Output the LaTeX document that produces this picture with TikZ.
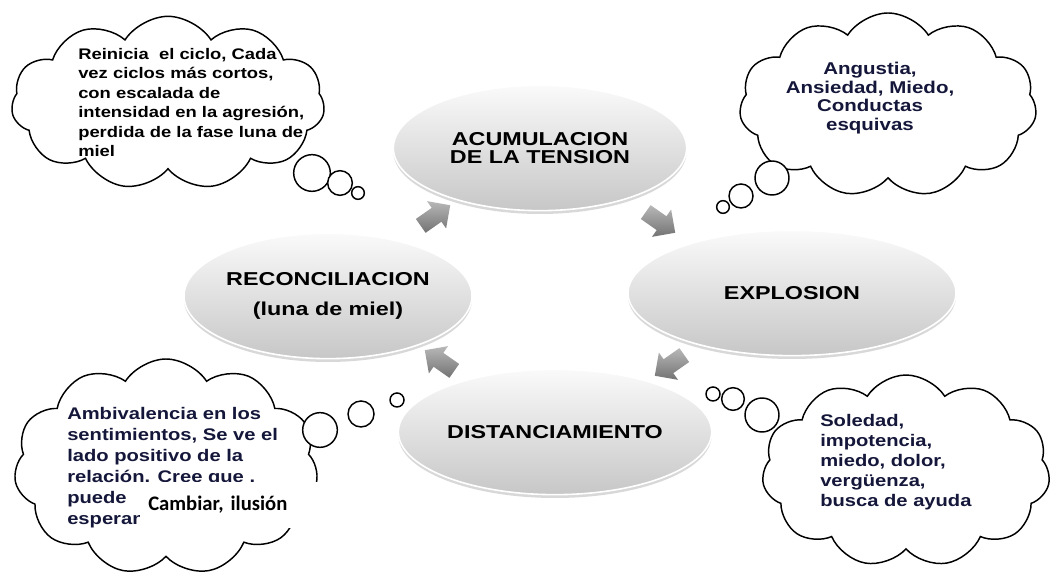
\documentclass[tikz,border=0pt]{standalone}
\usepackage{fontspec}
\setmainfont{Liberation Sans}
\newfontfamily\phasefont[FakeStretch=1.25]{Liberation Sans}
\newfontfamily\notefont[FakeStretch=1.2]{Liberation Sans}
\newfontfamily\boxfont{Carlito}
\usetikzlibrary{shapes.geometric, shapes.symbols, shapes.arrows, shadows}
\definecolor{cycgray}{HTML}{8C8C8C}
\definecolor{noteink}{HTML}{15173A}

\begin{document}
\begin{tikzpicture}[
    x=0.75pt, y=0.75pt,
    phase/.style={
        ellipse,
        minimum width=#1,
        minimum height=94pt,
        inner sep=0pt,
        draw=white,
        line width=1.2pt,
        top color=black!2,
        bottom color=black!22,
        drop shadow={shadow xshift=0pt, shadow yshift=-2.5pt, opacity=0.3},
        align=center,
        font=\phasefont\bfseries\fontsize{14}{14}\selectfont
    },
    thought/.style={
        cloud,
        cloud puffs=11,
        cloud puff arc=115,
        draw=black,
        line width=1.1pt,
        fill=white,
        inner sep=0pt
    },
    puff/.style={
        circle,
        draw=black,
        line width=1.1pt,
        fill=white,
        inner sep=0pt,
        minimum size=#1
    },
    notetext/.style 2 args={
        align=left,
        inner sep=0pt,
        text=noteink,
        font=\notefont\bfseries\fontsize{#1}{#2}\selectfont
    },
    cycarrow/.style={
        single arrow,
        minimum height=27pt,
        minimum width=25pt,
        single arrow head extend=6pt,
        inner xsep=0pt,
        inner ysep=6pt,
        top color=black!28,
        bottom color=black!55,
        rotate=#1
    },
    coverbox/.style={
        rectangle,
        fill=white,
        minimum width=134pt,
        minimum height=35pt,
        inner xsep=6pt,
        text width=122pt,
        align=left,
        font=\boxfont\bfseries\fontsize{15.5}{17}\selectfont
    }
]

% Canvas
\path[fill=white] (0,0) rectangle (1052,580);
\useasboundingbox (0,0) rectangle (1052,580);

% Phases of the cycle
\node[phase=220pt] (acum) at (540,432) {ACUMULACION\\DE LA TENSION};
\node[phase=246pt] (explo) at (792,287) {EXPLOSION};
\node[phase=235pt] (dist) at (555,148) {DISTANCIAMIENTO};
\node[phase=216pt] (recon) at (328,284) {RECONCILIACION\\[8pt](luna de miel)};

% Arrows between phases
\node[cycarrow=35] (arrA) at (432,362) {};
\node[cycarrow=-35] (arrB) at (657,360) {};
\node[cycarrow=-145] (arrC) at (673,217) {};
\node[cycarrow=145] (arrD) at (443,217) {};

% Thought 1: top left
\node[thought, minimum width=235pt, minimum height=130pt] (think1) at (168,477) {};
\node[puff=27.5pt] (bub1a) at (312,407) {};
\node[puff=18.5pt] (bub1b) at (340,397) {};
\node[puff=9.5pt] (bub1c) at (358,387) {};
\node[notetext={11.5}{14.6}, text=black, anchor=north west] (note1) at (78,532)
    {Reinicia\ \ el ciclo, Cada\\vez ciclos más cortos,\\con escalada de\\intensidad en la agresión,\\perdida de la fase luna de\\miel};

% Thought 2: top right
\node[thought, minimum width=223pt, minimum height=138pt] (think2) at (888,475) {};
\node[puff=25.5pt] (bub2a) at (772,402) {};
\node[puff=18pt] (bub2b) at (741,384) {};
\node[puff=9.5pt] (bub2c) at (723,373) {};
\node[notetext={12.8}{13.8}, align=center] (note2) at (870,482)
    {Angustia,\\Ansiedad, Miedo,\\Conductas\\esquivas};

% Thought 3: bottom left
\node[thought, minimum width=228pt, minimum height=162pt] (think3) at (166,113) {};
\node[puff=26pt] (bub3a) at (320,150) {};
\node[puff=19.5pt] (bub3b) at (361,166) {};
\node[puff=10.5pt] (bub3c) at (397,180) {};
\node[notetext={12.6}{15.7}, anchor=north west] (note3) at (67,173)
    {Ambivalencia en los\\sentimientos, Se ve el\\lado positivo de la\\relación. Cree que .\\puede\\esperanza};
\node[coverbox, anchor=west] (patch) at (140,75) {Cambiar, ilusión};

% Thought 4: bottom right
\node[thought, minimum width=216pt, minimum height=144pt] (think4) at (906,109) {};
\node[puff=25.5pt] (bub4a) at (762,165) {};
\node[puff=17pt] (bub4b) at (733,181) {};
\node[puff=10.5pt] (bub4c) at (713,186) {};
\node[notetext={12.6}{15}, anchor=north west] (note4) at (820,166)
    {Soledad,\\impotencia,\\miedo, dolor,\\vergüenza,\\busca de ayuda};

\end{tikzpicture}
\end{document}
